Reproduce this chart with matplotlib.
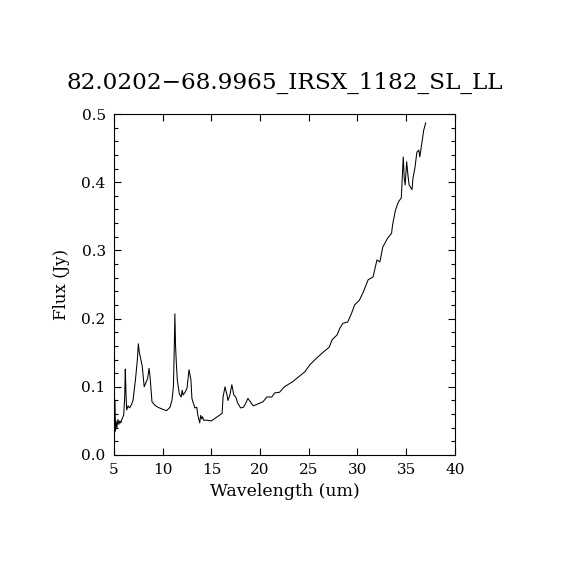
import matplotlib
matplotlib.use("Agg")
import matplotlib.pyplot as plt
from matplotlib.ticker import MultipleLocator

# spectrum
wave = [5.1, 5.15, 5.2, 5.3, 5.4, 5.5, 5.6, 5.7, 5.8, 5.9, 6.0, 6.1, 6.16, 6.22,
        6.3, 6.45, 6.6, 6.8, 6.95, 7.2, 7.4, 7.5, 7.6, 7.7, 7.9, 8.1, 8.3, 8.45,
        8.6, 8.7, 8.9, 9.2, 9.5, 10.0, 10.4, 10.75, 10.95, 11.1, 11.18, 11.25,
        11.32, 11.4, 11.5, 11.7, 11.9, 12.0, 12.1, 12.3, 12.5, 12.7, 12.9, 13.0,
        13.3, 13.5, 13.6, 13.8, 13.9, 14.0, 14.1, 14.2, 14.5, 15.0, 15.6, 16.1,
        16.2, 16.4, 16.6, 16.7, 16.9, 17.1, 17.3, 17.5, 17.7, 18.0, 18.3, 18.6,
        18.75, 19.0, 19.3, 19.8, 20.3, 20.7, 21.2, 21.5, 22.0, 22.5, 23.3, 23.9,
        24.6, 25.1, 25.8, 26.5, 27.1, 27.4, 27.9, 28.2, 28.5, 29.0, 29.4, 29.7,
        30.2, 30.6, 31.1, 31.6, 32.0, 32.3, 32.6, 33.1, 33.5, 33.6, 33.9, 34.2,
        34.5, 34.7, 34.8, 34.9, 35.05, 35.2, 35.3, 35.6, 35.7, 35.9, 36.1, 36.3,
        36.4, 36.6, 36.8, 37.0]
flux = [0.080, 0.035, 0.050, 0.040, 0.052, 0.045, 0.050, 0.047, 0.052, 0.055,
        0.059, 0.085, 0.126, 0.095, 0.066, 0.072, 0.069, 0.074, 0.080, 0.110,
        0.140, 0.163, 0.150, 0.144, 0.130, 0.100, 0.107, 0.112, 0.127, 0.115,
        0.078, 0.073, 0.070, 0.067, 0.065, 0.070, 0.080, 0.100, 0.150, 0.207,
        0.160, 0.135, 0.110, 0.090, 0.085, 0.095, 0.088, 0.092, 0.098, 0.125,
        0.110, 0.083, 0.069, 0.070, 0.059, 0.047, 0.058, 0.053, 0.056, 0.051,
        0.051, 0.050, 0.056, 0.061, 0.085, 0.100, 0.088, 0.080, 0.088, 0.103,
        0.088, 0.085, 0.076, 0.069, 0.070, 0.078, 0.083, 0.078, 0.072, 0.075,
        0.078, 0.085, 0.085, 0.091, 0.092, 0.100, 0.107, 0.114, 0.122, 0.132,
        0.142, 0.151, 0.158, 0.169, 0.176, 0.186, 0.193, 0.195, 0.208, 0.220,
        0.227, 0.239, 0.257, 0.261, 0.286, 0.283, 0.305, 0.318, 0.325, 0.337,
        0.359, 0.371, 0.377, 0.437, 0.406, 0.396, 0.430, 0.408, 0.396, 0.389,
        0.406, 0.421, 0.444, 0.447, 0.437, 0.457, 0.476, 0.487]

plt.rcParams["font.family"] = ["DejaVu Serif"]

fig = plt.figure(figsize=(5.7, 5.7), dpi=100)
ax = fig.add_axes([0.2, 0.2018, 0.598, 0.5982])
ax.plot(wave, flux, color="black", linewidth=0.75)

ax.set_xlim(5, 40)
ax.set_ylim(0.0, 0.5)
ax.xaxis.set_major_locator(MultipleLocator(5))
ax.yaxis.set_major_locator(MultipleLocator(0.1))
ax.yaxis.set_minor_locator(MultipleLocator(0.02))
ax.yaxis.set_major_formatter(plt.FormatStrFormatter("%.1f"))
ax.tick_params(which="both", direction="in", top=True, right=True,
               labelsize=11, width=0.8)
ax.tick_params(which="major", length=5, pad=6)
ax.tick_params(which="minor", length=3)
for s in ax.spines.values():
    s.set_linewidth(0.8)

ax.set_xlabel("Wavelength (um)", fontsize=12.5, labelpad=4)
ax.set_ylabel("Flux (Jy)", fontsize=12, labelpad=8)
ax.set_title("82.0202\u221268.9965_IRSX_1182_SL_LL", fontsize=16.7, pad=18)

fig.savefig("out.png", dpi=100)
